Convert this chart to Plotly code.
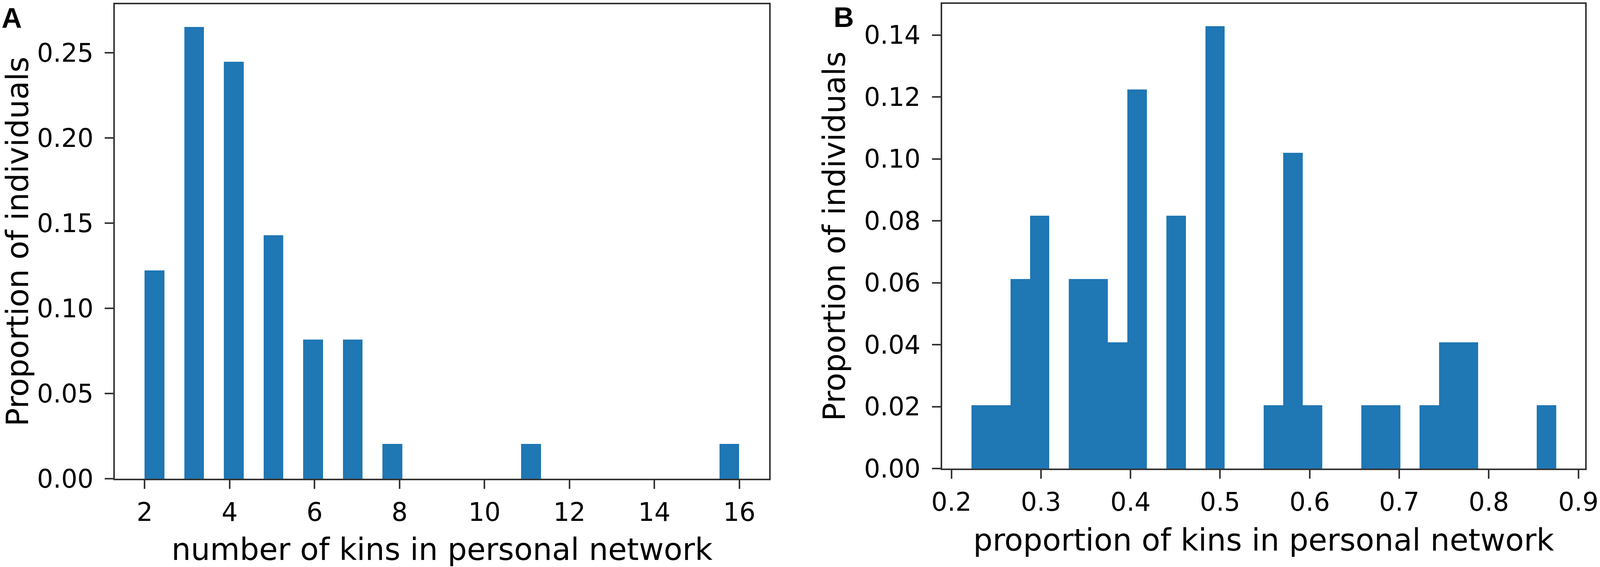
import numpy as np
import plotly.graph_objects as go

# Panel A: number of kins in personal network (share of individuals)
n_kins = [2, 3, 4, 5, 6, 7, 8, 11, 16]
share_a = [0.1224, 0.2653, 0.2449, 0.1429, 0.0816, 0.0816, 0.0204, 0.0204, 0.0204]

# Panel B: proportion of kins in personal network, 30 equal bins
prop_min, prop_max = 0.2222, 0.875
share_b = [0.0204, 0.0204, 0.0612, 0.0816, 0.0, 0.0612, 0.0612, 0.0408, 0.1224, 0.0,
           0.0816, 0.0, 0.1429, 0.0, 0.0, 0.0204, 0.1020, 0.0204, 0.0, 0.0,
           0.0204, 0.0204, 0.0, 0.0204, 0.0408, 0.0408, 0.0, 0.0, 0.0, 0.0204]
n_bins = 30

blue = "#1f77b4"
W, H = 4550, 1451   # reference size, domains below are fractions of it
FS = 65

# histogram bins like matplotlib's hist(bins=30)
edges_a = np.linspace(min(n_kins), max(n_kins), n_bins + 1)
w_a = edges_a[1] - edges_a[0]
idx = np.clip(np.searchsorted(edges_a, n_kins, side="right") - 1, 0, n_bins - 1)
x_a = edges_a[idx] + w_a / 2

edges_b = np.linspace(prop_min, prop_max, n_bins + 1)
w_b = edges_b[1] - edges_b[0]
x_b = edges_b[:-1] + w_b / 2

fig = go.Figure()
fig.add_trace(go.Bar(x=x_a, y=share_a, width=w_a, marker=dict(color=blue, line=dict(width=0)),
                     xaxis="x", yaxis="y", showlegend=False))
fig.add_trace(go.Bar(x=x_b, y=share_b, width=w_b, marker=dict(color=blue, line=dict(width=0)),
                     xaxis="x2", yaxis="y2", showlegend=False))


def pad(lo, hi):
    s = hi - lo
    return [lo - 0.05 * s, hi + 0.05 * s]


axis_style = dict(
    showline=True, linecolor="#333333", linewidth=4, mirror=True,
    ticks="outside", ticklen=22, tickwidth=4, tickcolor="#333333",
    showgrid=False, zeroline=False, automargin=False,
    tickfont=dict(family="DejaVu Sans", size=FS, color="black"),
)
xstyle = dict(axis_style, ticklabelstandoff=4)
ystyle = dict(axis_style, ticklabelstandoff=16)

fig.update_layout(
    width=W, height=H,
    margin=dict(l=0, r=0, t=0, b=0),
    plot_bgcolor="white", paper_bgcolor="white",
    bargap=0,
    font=dict(family="DejaVu Sans", size=FS, color="black"),
    xaxis=dict(xstyle, domain=[327 / W, 2187 / W], range=pad(min(n_kins), max(n_kins)),
               tickmode="linear", tick0=0, dtick=2, anchor="y",
               title=dict(text="number of kins in personal network", standoff=34)),
    yaxis=dict(ystyle, domain=[(H - 1225) / H, (H - 11) / H], range=[0, max(share_a) * 1.05],
               tickmode="linear", tick0=0, dtick=0.05, tickformat=".2f", anchor="x",
               title=dict(text="Proportion of individuals", standoff=24)),
    xaxis2=dict(xstyle, domain=[2679 / W, 4508 / W], range=pad(prop_min, prop_max),
                tickmode="linear", tick0=0, dtick=0.1, tickformat=".1f", anchor="y2",
                title=dict(text="proportion of kins in personal network", standoff=34)),
    yaxis2=dict(ystyle, domain=[(H - 1199) / H, (H - 10) / H], range=[0, max(share_b) * 1.05],
                tickmode="linear", tick0=0, dtick=0.02, tickformat=".2f", anchor="x2",
                title=dict(text="Proportion of individuals", standoff=24)),
    annotations=[
        dict(text="<b>A</b>", x=0.0005, y=1 - 4 / H, xref="paper", yref="paper",
             xanchor="left", yanchor="top", showarrow=False,
             font=dict(family="Liberation Sans", size=72, color="black")),
        dict(text="<b>B</b>", x=2368 / W, y=1 - 2 / H, xref="paper", yref="paper",
             xanchor="left", yanchor="top", showarrow=False,
             font=dict(family="Liberation Sans", size=72, color="black")),
    ],
)

# fit the figure to the browser window (it can be narrower than the reference)
fit = """
var gd = document.getElementById('{plot_id}');
document.body.style.margin = '0';
document.body.style.overflow = 'hidden';
Plotly.relayout(gd, {width: window.innerWidth, height: window.innerHeight});
"""
fig.write_html("out.html", post_script=fit, config={"displayModeBar": False})
